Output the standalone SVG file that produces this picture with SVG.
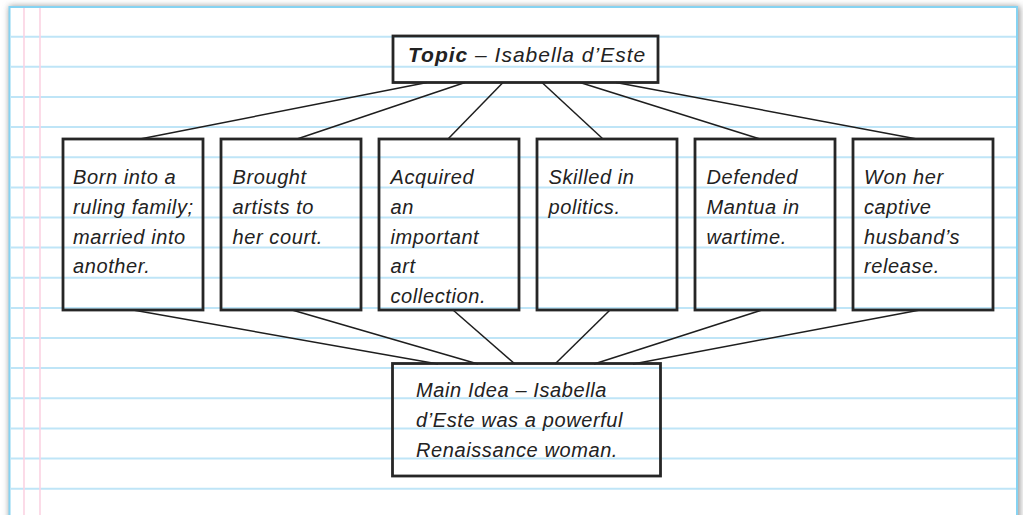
<svg xmlns="http://www.w3.org/2000/svg" width="1023" height="515" viewBox="0 0 1023 515">
  <defs>
    <filter id="paperShadow" x="-5%" y="-5%" width="110%" height="110%">
      <feGaussianBlur stdDeviation="3"/>
    </filter>
  </defs>
  <style>
    .rule { stroke: #bfe5f7; stroke-width: 2; }
    .margin { stroke: #fbd3e3; stroke-width: 1.6; }
    .box { fill: none; stroke: #262626; stroke-width: 2.8; }
    .link { stroke: #1e1e1e; stroke-width: 1.5; fill: none; }
    .hand { font-family: "Liberation Sans", "DejaVu Sans", sans-serif; font-style: italic; font-size: 20px; letter-spacing: 0.6px; fill: #222; }
    .title { font-size: 21px; letter-spacing: 1px; }
    .bold { font-weight: bold; }
  </style>

  <!-- page background and notebook sheet -->
  <rect x="0" y="0" width="1023" height="515" fill="#ffffff"/>
  <rect x="9" y="6" width="1011" height="520" fill="#9a9a9a" filter="url(#paperShadow)"/>
  <rect x="9.5" y="7" width="1007.5" height="520" fill="#ffffff" stroke="#86d3f2" stroke-width="2"/>

  <!-- ruled lines -->
  <g id="ruled-lines">
    <line class="rule" x1="10.5" y1="36.7" x2="1016" y2="36.7"/>
    <line class="rule" x1="10.5" y1="66.8" x2="1016" y2="66.8"/>
    <line class="rule" x1="10.5" y1="97" x2="1016" y2="97"/>
    <line class="rule" x1="10.5" y1="127.1" x2="1016" y2="127.1"/>
    <line class="rule" x1="10.5" y1="157.2" x2="1016" y2="157.2"/>
    <line class="rule" x1="10.5" y1="187.4" x2="1016" y2="187.4"/>
    <line class="rule" x1="10.5" y1="217.5" x2="1016" y2="217.5"/>
    <line class="rule" x1="10.5" y1="247.6" x2="1016" y2="247.6"/>
    <line class="rule" x1="10.5" y1="277.7" x2="1016" y2="277.7"/>
    <line class="rule" x1="10.5" y1="307.9" x2="1016" y2="307.9"/>
    <line class="rule" x1="10.5" y1="338" x2="1016" y2="338"/>
    <line class="rule" x1="10.5" y1="368.1" x2="1016" y2="368.1"/>
    <line class="rule" x1="10.5" y1="398.3" x2="1016" y2="398.3"/>
    <line class="rule" x1="10.5" y1="428.4" x2="1016" y2="428.4"/>
    <line class="rule" x1="10.5" y1="458.5" x2="1016" y2="458.5"/>
    <line class="rule" x1="10.5" y1="488.7" x2="1016" y2="488.7"/>
  </g>

  <!-- margin lines -->
  <line class="margin" x1="24" y1="8" x2="24" y2="515"/>
  <line class="margin" x1="40" y1="8" x2="40" y2="515"/>

  <!-- connectors -->
  <g id="connectors">
    <line class="link" x1="427" y1="82.5" x2="140" y2="139"/>
    <line class="link" x1="465" y1="82.5" x2="297" y2="139"/>
    <line class="link" x1="503" y1="82.5" x2="448" y2="139"/>
    <line class="link" x1="542" y1="82.5" x2="603" y2="139"/>
    <line class="link" x1="580" y1="82.5" x2="760" y2="139"/>
    <line class="link" x1="616" y1="82.5" x2="917" y2="139"/>

    <line class="link" x1="133" y1="310" x2="438" y2="364"/>
    <line class="link" x1="292" y1="310" x2="478" y2="364"/>
    <line class="link" x1="453" y1="310" x2="515" y2="364"/>
    <line class="link" x1="610" y1="310" x2="555" y2="364"/>
    <line class="link" x1="762" y1="310" x2="594" y2="364"/>
    <line class="link" x1="920" y1="310" x2="633" y2="364"/>
  </g>

  <!-- topic -->
  <g id="topic">
    <rect class="box" x="393" y="36" width="265" height="46.5"/>
    <text class="hand title" x="408" y="61.7"><tspan class="bold">Topic</tspan> – Isabella d’Este</text>
  </g>

  <!-- detail boxes -->
  <g id="detail-1">
    <rect class="box" x="63" y="139" width="140" height="171"/>
    <text class="hand" x="73" y="184">Born into a</text>
    <text class="hand" x="73" y="214">ruling family;</text>
    <text class="hand" x="73" y="243.5">married into</text>
    <text class="hand" x="73" y="273">another.</text>
  </g>

  <g id="detail-2">
    <rect class="box" x="221" y="139" width="140" height="171"/>
    <text class="hand" x="232.5" y="184">Brought</text>
    <text class="hand" x="232.5" y="214">artists to</text>
    <text class="hand" x="232.5" y="243.5">her court.</text>
  </g>

  <g id="detail-3">
    <rect class="box" x="379" y="139" width="140" height="171"/>
    <text class="hand" x="390.5" y="184">Acquired</text>
    <text class="hand" x="390.5" y="214">an</text>
    <text class="hand" x="390.5" y="243.5">important</text>
    <text class="hand" x="390.5" y="273">art</text>
    <text class="hand" x="390.5" y="303">collection.</text>
  </g>

  <g id="detail-4">
    <rect class="box" x="537" y="139" width="140" height="171"/>
    <text class="hand" x="548.5" y="184">Skilled in</text>
    <text class="hand" x="548.5" y="214">politics.</text>
  </g>

  <g id="detail-5">
    <rect class="box" x="695" y="139" width="140" height="171"/>
    <text class="hand" x="706.5" y="184">Defended</text>
    <text class="hand" x="706.5" y="214">Mantua in</text>
    <text class="hand" x="706.5" y="243.5">wartime.</text>
  </g>

  <g id="detail-6">
    <rect class="box" x="853" y="139" width="140" height="171"/>
    <text class="hand" x="864" y="184">Won her</text>
    <text class="hand" x="864" y="214">captive</text>
    <text class="hand" x="864" y="243.5">husband’s</text>
    <text class="hand" x="864" y="273">release.</text>
  </g>

  <!-- main idea -->
  <g id="main-idea">
    <rect class="box" x="392.5" y="363.5" width="268" height="112.5"/>
    <text class="hand" x="416" y="397.3">Main Idea – Isabella</text>
    <text class="hand" x="416" y="427.3">d’Este was a powerful</text>
    <text class="hand" x="416" y="456.7">Renaissance woman.</text>
  </g>
</svg>
